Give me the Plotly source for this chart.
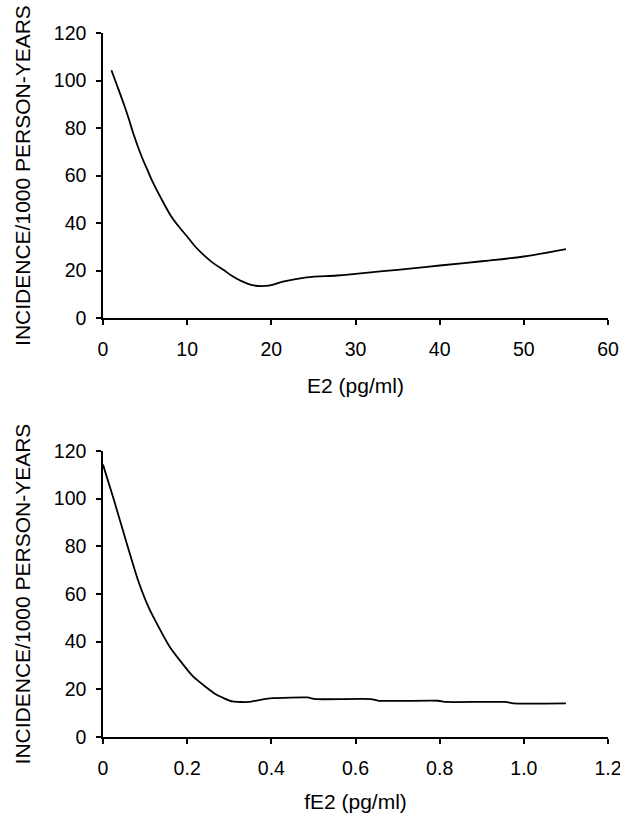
import plotly.graph_objects as go

# Top panel: E2 (pg/ml) vs incidence
e2_x = [1.0, 1.66, 2.45, 3.05, 3.6, 4.6, 5.2, 5.8, 6.8, 8.0, 9.0, 10.0, 10.95, 11.95, 13.1,
        14.3, 15.3, 16.3, 17.9, 19.7, 21.5, 24.2, 27.8, 30.0, 35.0, 40.0, 45.0, 50.0, 55.0]
e2_y = [104.3, 98.0, 90.3, 84.0, 77.7, 67.9, 63.0, 58.1, 51.1, 43.4, 38.5, 34.3, 30.1, 26.6, 23.1,
        20.3, 17.8, 15.8, 13.7, 13.6, 15.4, 17.1, 17.9, 18.6, 20.3, 22.1, 23.9, 25.9, 29.0]

# Bottom panel: fE2 (pg/ml) vs incidence
fe2_x = [0.0, 0.026, 0.054, 0.083, 0.111, 0.158, 0.214, 0.270, 0.308, 0.346, 0.374,
         0.402, 0.486, 0.505, 0.637, 0.655, 0.796, 0.815, 0.956, 0.975, 1.10]
fe2_y = [114.3, 99.4, 82.7, 65.9, 53.4, 38.0, 25.4, 17.7, 14.9, 14.7, 15.6,
         16.3, 16.6, 15.9, 15.9, 15.2, 15.2, 14.7, 14.7, 14.1, 14.1]

y_ticks = [0, 20, 40, 60, 80, 100, 120]
e2_ticks = [0, 10, 20, 30, 40, 50, 60]
fe2_ticks = [0, 0.2, 0.4, 0.6, 0.8, 1.0, 1.2]
fe2_ticktext = ["0", "0.2", "0.4", "0.6", "0.8", "1.0", "1.2"]
y_title = "INCIDENCE/1000 PERSON-YEARS"

FAMILY = "Liberation Sans, Arial, sans-serif"
TICKFONT = dict(family=FAMILY, size=19.5, color="black")
TITLEFONT = dict(family=FAMILY, size=21, color="black")

fig = go.Figure()
fig.add_trace(go.Scatter(x=e2_x, y=e2_y, mode="lines", line=dict(color="black", width=1.8, shape="spline", smoothing=1.0),
                         xaxis="x", yaxis="y", showlegend=False, hoverinfo="skip"))
fig.add_trace(go.Scatter(x=fe2_x, y=fe2_y, mode="lines", line=dict(color="black", width=1.8, shape="spline", smoothing=0.5),
                         xaxis="x2", yaxis="y2", showlegend=False, hoverinfo="skip"))

axis_common = dict(showline=True, linecolor="black", linewidth=1.5, ticks="outside",
                   ticklen=5, tickwidth=1.5, tickcolor="black", showgrid=False, zeroline=False,
                   tickfont=TICKFONT, title_font=TITLEFONT, automargin=False, ticklabeloverflow="allow")

# plot area: x 103..608 px, y 33..737 px
fig.update_layout(
    width=620, height=813,
    margin=dict(l=103, r=12, t=33, b=76, autoexpand=False),
    paper_bgcolor="white", plot_bgcolor="white",
    font=TICKFONT,
    xaxis=dict(domain=[0, 1], anchor="y", range=[0, 60], tickvals=e2_ticks,
               title=dict(text="E2 (pg/ml)", standoff=19), ticklabelstandoff=8, **axis_common),
    yaxis=dict(domain=[(737 - 318) / 704, 1], anchor="x", range=[0, 120], tickvals=y_ticks,
               title=dict(text=y_title, standoff=17), ticklabelstandoff=6, **axis_common),
    xaxis2=dict(domain=[0, 1], anchor="y2", range=[0, 1.2], tickvals=fe2_ticks, ticktext=fe2_ticktext,
                title=dict(text="fE2 (pg/ml)", standoff=19), ticklabelstandoff=8, **axis_common),
    yaxis2=dict(domain=[0, (737 - 451) / 704], anchor="x2", range=[0, 120], tickvals=y_ticks,
                title=dict(text=y_title, standoff=17), ticklabelstandoff=6, **axis_common),
)

fig.write_html("out.html", config={"displayModeBar": False},
               post_script="document.body.style.margin='0';document.body.style.overflow='hidden';")
